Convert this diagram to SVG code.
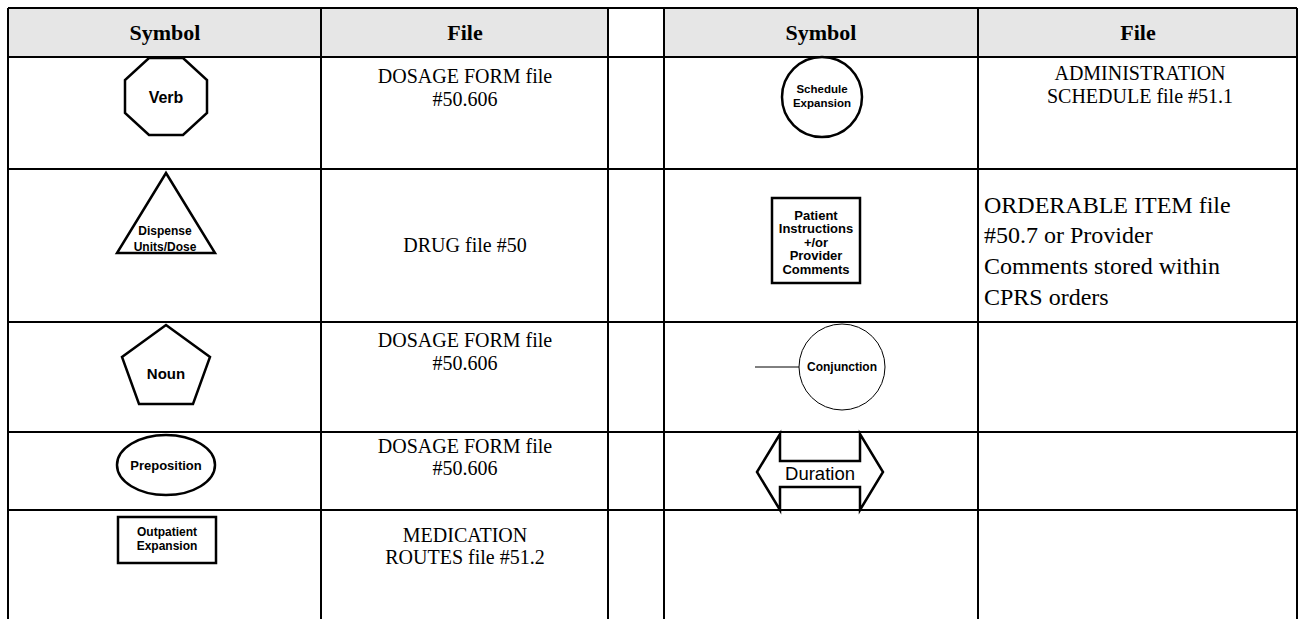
<svg xmlns="http://www.w3.org/2000/svg" width="1302" height="619" viewBox="0 0 1302 619">
<style>
.grid{stroke:#000;stroke-width:2;fill:none}
.hdr{fill:#e6e6e6}
.ht{font-family:"Liberation Serif","Times New Roman",serif;font-weight:bold;font-size:22px;text-anchor:middle;fill:#000}
.ft{font-family:"Liberation Serif","Times New Roman",serif;font-size:20px;text-anchor:middle;fill:#000}
.fl{font-family:"Liberation Serif","Times New Roman",serif;font-size:24px;fill:#000}
.sym{fill:#fff;stroke:#000;stroke-width:2.5}
.thin{fill:#fff;stroke:#000;stroke-width:1}
.st{font-family:"Liberation Sans",Arial,sans-serif;font-weight:bold;text-anchor:middle;fill:#000}
</style>
<rect width="1302" height="619" fill="#fff"/>
<g id="table">
<rect class="hdr" x="8" y="8" width="600" height="49"/>
<rect class="hdr" x="664" y="8" width="633" height="49"/>
<path class="grid" d="M8,8H1297M8,57H1297M8,169H1297M8,322H1297M8,432H1297M8,510H1297M8,8V619M321,8V619M608,8V619M664,8V619M978,8V619M1297,8V619"/>
<text class="ht" x="165" y="40">Symbol</text>
<text class="ht" x="465" y="40">File</text>
<text class="ht" x="821" y="40">Symbol</text>
<text class="ht" x="1138" y="40">File</text>
</g>
<g id="files">
<text class="ft" x="465" y="83">DOSAGE FORM file</text>
<text class="ft" x="465" y="106">#50.606</text>
<text class="ft" x="465" y="252">DRUG file #50</text>
<text class="ft" x="465" y="347">DOSAGE FORM file</text>
<text class="ft" x="465" y="370">#50.606</text>
<text class="ft" x="465" y="453">DOSAGE FORM file</text>
<text class="ft" x="465" y="475">#50.606</text>
<text class="ft" x="465" y="542">MEDICATION</text>
<text class="ft" x="465" y="564">ROUTES file #51.2</text>
<text class="ft" x="1140" y="80">ADMINISTRATION</text>
<text class="ft" x="1140" y="103">SCHEDULE file #51.1</text>
<text class="fl" x="984" y="213">ORDERABLE ITEM file</text>
<text class="fl" x="984" y="243">#50.7 or Provider</text>
<text class="fl" x="984" y="274">Comments stored within</text>
<text class="fl" x="984" y="305">CPRS orders</text>
</g>
<g id="verb">
<polygon class="sym" points="149,58 183,58 207,80 207,113 183,135 149,135 125,113 125,80"/>
<text class="st" x="166" y="102.5" font-size="16">Verb</text>
</g>
<g id="dispense">
<polygon class="sym" points="166,173 215,253 117,253"/>
<text class="st" x="165" y="235" font-size="12">Dispense</text>
<text class="st" x="165" y="251" font-size="12">Units/Dose</text>
</g>
<g id="noun">
<polygon class="sym" points="166,325 210,357 193,404 139,404 122,357"/>
<text class="st" x="166" y="379" font-size="15">Noun</text>
</g>
<g id="preposition">
<ellipse class="sym" cx="166" cy="465" rx="49" ry="30"/>
<text class="st" x="166" y="470" font-size="13">Preposition</text>
</g>
<g id="outpatient">
<rect class="sym" x="118" y="517" width="98" height="46" stroke-width="3"/>
<text class="st" x="167" y="536" font-size="12">Outpatient</text>
<text class="st" x="167" y="550" font-size="12">Expansion</text>
</g>
<g id="schedule">
<circle class="sym" cx="822" cy="97" r="40"/>
<text class="st" x="822" y="93" font-size="11.5">Schedule</text>
<text class="st" x="822" y="107" font-size="11.5">Expansion</text>
</g>
<g id="patient">
<rect class="sym" x="772" y="198" width="88" height="85" stroke-width="3"/>
<text class="st" x="816" y="219.5" font-size="13">Patient</text>
<text class="st" x="816" y="233" font-size="13">Instructions</text>
<text class="st" x="816" y="246.5" font-size="13">+/or</text>
<text class="st" x="816" y="260" font-size="13">Provider</text>
<text class="st" x="816" y="273.5" font-size="13">Comments</text>
</g>
<g id="conjunction">
<circle class="thin" cx="842" cy="367" r="43"/>
<text class="st" x="842" y="371" font-size="12">Conjunction</text>
</g>
<g id="duration">
<path class="sym" stroke-width="3.3" stroke-linejoin="miter" d="M757,472 L780,434 L780,461 L860,461 L860,434 L883,472 L860,510 L860,487 L780,487 L780,510 Z"/>
<text x="820" y="480" font-family="Liberation Sans,Arial,sans-serif" font-size="18.5" text-anchor="middle">Duration</text>
</g>
<g id="connectors">
<line x1="755" y1="367" x2="799" y2="367" stroke="#000" stroke-width="1"/>
</g>
</svg>
